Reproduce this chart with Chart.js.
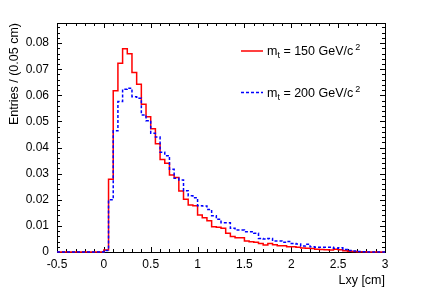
<!DOCTYPE html>
<html>
<head>
<meta charset="utf-8">
<script src="https://cdn.jsdelivr.net/npm/chart.js@4"></script>
<style>
  html, body { margin: 0; padding: 0; background: #fff; }
</style>
</head>
<body>
<canvas id="lxyChart" width="429" height="291"></canvas>
<script>
// histogram binning (cm)
const xMin = -0.5;
const xMax = 3.0;
const binWidth = 0.05;
const yMax = 0.0877;

const xTicks = [-0.5, 0, 0.5, 1, 1.5, 2, 2.5, 3];
const yTicks = [0, 0.01, 0.02, 0.03, 0.04, 0.05, 0.06, 0.07, 0.08];

const topMasses = [150, 200];

// entries per 0.05 cm bin, from -0.5 to 3.0
const lxy150 = [
  0, 0, 0, 0, 0, 0, 0, 0, 0, 0,
  0.0008,
  0.0279, 0.0618, 0.0723, 0.0778, 0.0759, 0.0687, 0.0642, 0.0566, 0.0518,
  0.0472, 0.0415, 0.0354, 0.0340, 0.0295, 0.0285, 0.0234, 0.0202, 0.0180, 0.0177,
  0.0142, 0.0131, 0.0120, 0.0097, 0.0095, 0.0091, 0.0072, 0.0059, 0.0055, 0.0055,
  0.0042, 0.0039, 0.0037, 0.0033, 0.0027, 0.0033, 0.0028, 0.0024, 0.0024, 0.0020,
  0.0020, 0.0018, 0.0015, 0.0014, 0.0013, 0.0011, 0.0010, 0.0009, 0.0008, 0.0011,
  0.0009, 0.0005, 0.0003, 0.0002, 0.0001, 0.0001, 0, 0, 0, 0
];
const lxy200 = [
  0, 0, 0, 0, 0, 0, 0, 0, 0, 0,
  0.0006,
  0.0200, 0.0464, 0.0576, 0.0623, 0.0627, 0.0595, 0.0589, 0.0525, 0.0503,
  0.0455, 0.0440, 0.0382, 0.0369, 0.0317, 0.0282, 0.0276, 0.0235, 0.0215, 0.0208,
  0.0177, 0.0176, 0.0163, 0.0139, 0.0125, 0.0112, 0.0112, 0.0091, 0.0084, 0.0084,
  0.0078, 0.0078, 0.0072, 0.0052, 0.0050, 0.0052, 0.0042, 0.0042, 0.0037, 0.0040,
  0.0033, 0.0031, 0.0023, 0.0030, 0.0020, 0.0018, 0.0018, 0.0018, 0.0018, 0.0014,
  0.0016, 0.0010, 0.0006, 0.0004, 0.0002, 0.0001, 0, 0, 0, 0
];

const FONT = 'Liberation Sans, Arial, sans-serif';

// left bin edges + closing point at xMax, drawn as steps
function histPoints(values) {
  const pts = values.map((v, i) => ({ x: Math.round((xMin + i * binWidth) * 1e6) / 1e6, y: v }));
  pts.push({ x: xMax, y: values[values.length - 1] });
  return pts;
}

const fmt = (v) => String(+Number(v).toFixed(3));

// ROOT-like frame with inner ticks on all four sides
const frameTicks = {
  id: 'frameTicks',
  beforeDatasetsDraw(chart) {
    const { ctx, chartArea: a, scales: { x, y } } = chart;
    ctx.save();
    ctx.strokeStyle = '#000';
    ctx.lineWidth = 1;
    ctx.strokeRect(Math.round(a.left) + 0.5, Math.round(a.top) + 0.5,
      Math.round(a.right - a.left), Math.round(a.bottom - a.top));
    ctx.beginPath();
    for (let i = 0; i <= 35; i++) {
      const v = xMin + i * 0.1;
      const px = Math.round(x.getPixelForValue(v)) + 0.5;
      const len = i % 5 === 0 ? 5 : 3;
      ctx.moveTo(px, a.bottom); ctx.lineTo(px, a.bottom - len);
      ctx.moveTo(px, a.top); ctx.lineTo(px, a.top + len);
    }
    for (let i = 0; i * 0.002 <= yMax; i++) {
      const py = Math.round(y.getPixelForValue(i * 0.002)) + 0.5;
      const len = i % 5 === 0 ? 5 : 3;
      ctx.moveTo(a.left, py); ctx.lineTo(a.left + len, py);
      ctx.moveTo(a.right, py); ctx.lineTo(a.right - len, py);
    }
    ctx.stroke();
    ctx.restore();
  }
};

// legend with sub/superscripts
const massLegend = {
  id: 'massLegend',
  afterDraw(chart) {
    const { ctx } = chart;
    const rows = [{ lineY: 51, baseY: 55 }, { lineY: 92.5, baseY: 97 }];
    chart.data.datasets.forEach((ds, i) => {
      const r = rows[i];
      ctx.save();
      ctx.strokeStyle = ds.borderColor;
      ctx.lineWidth = ds.borderWidth;
      ctx.setLineDash(ds.borderDash || []);
      ctx.beginPath();
      ctx.moveTo(241, r.lineY); ctx.lineTo(263, r.lineY);
      ctx.stroke();
      ctx.setLineDash([]);
      ctx.fillStyle = '#000';
      ctx.textBaseline = 'alphabetic';
      let cx = 267;
      ctx.font = '12.5px ' + FONT;
      ctx.fillText('m', cx, r.baseY); cx += ctx.measureText('m').width;
      ctx.font = '9px ' + FONT;
      ctx.fillText('t', cx, r.baseY + 3); cx += ctx.measureText('t').width;
      ctx.font = '12.5px ' + FONT;
      const txt = ' = ' + topMasses[i] + ' GeV/c';
      ctx.fillText(txt, cx, r.baseY); cx += ctx.measureText(txt).width + 2;
      ctx.font = '9px ' + FONT;
      ctx.fillText('2', cx, r.baseY - 5);
      ctx.restore();
    });
  }
};

new Chart(document.getElementById('lxyChart'), {
  type: 'line',
  data: {
    datasets: [
      {
        label: 'm_t = ' + topMasses[0] + ' GeV/c^2',
        data: histPoints(lxy150),
        borderColor: '#ff0000',
        borderWidth: 1.5,
        stepped: true,
        pointRadius: 0,
        fill: false,
        clip: 3,
        order: 1
      },
      {
        label: 'm_t = ' + topMasses[1] + ' GeV/c^2',
        data: histPoints(lxy200),
        borderColor: '#0000ff',
        borderWidth: 1.5,
        borderDash: [3, 2],
        stepped: true,
        pointRadius: 0,
        fill: false,
        clip: 3,
        order: 0
      }
    ]
  },
  options: {
    responsive: false,
    animation: false,
    devicePixelRatio: 1,
    layout: { padding: { top: 23, right: 44, left: 0, bottom: 0 } },
    plugins: { legend: { display: false }, tooltip: { enabled: false } },
    scales: {
      x: {
        type: 'linear',
        min: xMin,
        max: xMax,
        afterBuildTicks: (s) => { s.ticks = xTicks.map((v) => ({ value: v })); },
        afterFit: (s) => { s.height = 39; },
        grid: { display: false, drawTicks: false },
        border: { display: false },
        ticks: { padding: 5, color: '#000', maxRotation: 0, autoSkip: false,
          font: { family: FONT, size: 12 }, callback: (v) => fmt(v) },
        title: { display: true, text: 'Lxy [cm]', align: 'end', color: '#000',
          font: { family: FONT, size: 12.5 }, padding: { top: 0, bottom: 2.5 } }
      },
      y: {
        min: 0,
        max: yMax,
        afterBuildTicks: (s) => { s.ticks = yTicks.map((v) => ({ value: v })); },
        afterFit: (s) => { s.width = 57; },
        grid: { display: false, drawTicks: false },
        border: { display: false },
        ticks: { padding: 8, color: '#000', autoSkip: false,
          font: { family: FONT, size: 12 }, callback: (v) => fmt(v) },
        title: { display: true, text: 'Entries / (0.05 cm)', align: 'end', color: '#000',
          font: { family: FONT, size: 12.5 }, padding: { top: 7, bottom: 0 } }
      }
    }
  },
  plugins: [frameTicks, massLegend]
});
</script>
</body>
</html>
